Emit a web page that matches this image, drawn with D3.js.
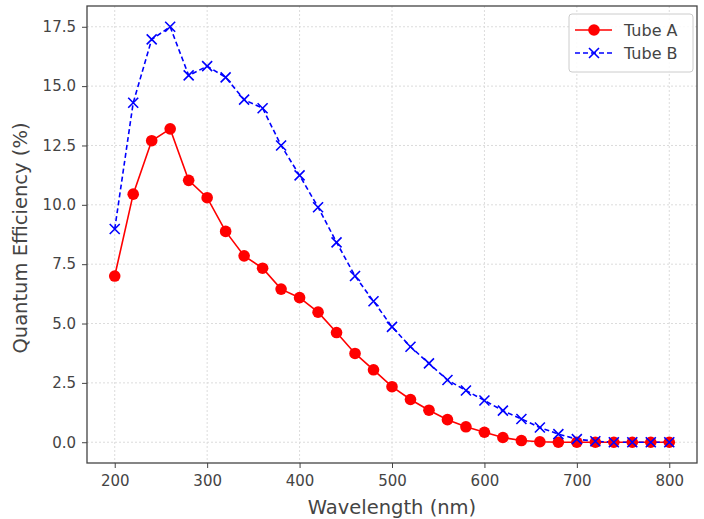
<!DOCTYPE html>
<html><head><meta charset="utf-8">
<script src="https://cdn.jsdelivr.net/npm/d3@7"></script>
<style>body{margin:0;background:#fff}svg{display:block}text{font-family:"DejaVu Sans",sans-serif}</style>
</head><body><svg id="c" width="704" height="519"></svg>
<script>
const wavelengths = d3.range(200, 801, 20);
const tubeA = [7.0,10.45,12.7,13.2,11.03,10.3,8.88,7.85,7.33,6.45,6.09,5.48,4.62,3.74,3.05,2.34,1.8,1.35,0.95,0.65,0.42,0.2,0.07,0.02,0.0,0.0,0.0,0.0,0.0,0.0,0.0];
const tubeB = [8.98,14.3,16.97,17.5,15.45,15.84,15.37,14.43,14.07,12.5,11.24,9.9,8.42,7.0,5.94,4.86,4.02,3.32,2.62,2.18,1.76,1.33,0.98,0.62,0.34,0.13,0.04,0.0,0.0,0.0,0.0];
const xTicks = [200,300,400,500,600,700,800];
const yTicks = [0,2.5,5,7.5,10,12.5,15,17.5];
const seriesNames = ["Tube A","Tube B"];

const svg = d3.select("#c");
const L=87,R=697,T=6,B=463;
const x = d3.scaleLinear().domain([170,830]).range([L,R]);
const y = d3.scaleLinear().domain([-0.875,18.375]).range([B,T]);

// grid
const g = svg.append("g");
g.selectAll(".gx").data(xTicks).enter().append("line")
 .attr("x1",d=>x(d)).attr("x2",d=>x(d)).attr("y1",T).attr("y2",B)
 .attr("stroke","#dcdcdc").attr("stroke-width",1).attr("stroke-dasharray","2,2");
g.selectAll(".gy").data(yTicks).enter().append("line")
 .attr("y1",d=>y(d)).attr("y2",d=>y(d)).attr("x1",L).attr("x2",R)
 .attr("stroke","#dcdcdc").attr("stroke-width",1).attr("stroke-dasharray","2,2");

// axes
const xa = svg.append("g").attr("transform",`translate(0,${B})`)
 .call(d3.axisBottom(x).tickValues(xTicks).tickFormat(d3.format("d")).tickSize(5).tickPadding(7));
const ya = svg.append("g").attr("transform",`translate(${L},0)`)
 .call(d3.axisLeft(y).tickValues(yTicks).tickFormat(d3.format(".1f")).tickSize(5).tickPadding(6));
[xa,ya].forEach(a=>{a.select(".domain").remove();
 a.selectAll("text").attr("font-size",15).attr("fill","#444");
 a.selectAll("line").attr("stroke","#444");});
svg.append("rect").attr("x",L).attr("y",T).attr("width",R-L).attr("height",B-T)
 .attr("fill","none").attr("stroke","#444").attr("stroke-width",1.3);

svg.append("text").attr("x",(L+R)/2).attr("y",514).attr("text-anchor","middle")
 .attr("font-size",19.5).attr("fill","#444").text("Wavelength (nm)");
svg.append("text").attr("transform",`translate(27,238) rotate(-90)`).attr("text-anchor","middle")
 .attr("font-size",19.5).attr("fill","#444").text("Quantum Efficiency (%)");

const line = d3.line().x((d,i)=>x(wavelengths[i])).y(d=>y(d));
svg.append("path").datum(tubeA).attr("d",line).attr("fill","none").attr("stroke","red").attr("stroke-width",1.6);
svg.append("path").datum(tubeB).attr("d",line).attr("fill","none").attr("stroke","blue").attr("stroke-width",1.6).attr("stroke-dasharray","5,3");

svg.append("g").selectAll("circle").data(tubeA).enter().append("circle")
 .attr("cx",(d,i)=>x(wavelengths[i])).attr("cy",d=>y(d)).attr("r",5.8).attr("fill","red");
const xm = (sel,cx,cy,s)=>sel.append("path").attr("d",`M${cx-s},${cy-s}L${cx+s},${cy+s}M${cx-s},${cy+s}L${cx+s},${cy-s}`)
 .attr("stroke","blue").attr("stroke-width",1.6).attr("fill","none");
const gb = svg.append("g");
tubeB.forEach((d,i)=>xm(gb,x(wavelengths[i]),y(d),5));

// legend
const lg = svg.append("g");
lg.append("rect").attr("x",569).attr("y",14).attr("width",124).attr("height",58).attr("rx",3)
 .attr("fill","white").attr("fill-opacity",0.85).attr("stroke","#ccc");
lg.append("line").attr("x1",575).attr("x2",612).attr("y1",30).attr("y2",30).attr("stroke","red").attr("stroke-width",1.6);
lg.append("circle").attr("cx",594).attr("cy",30).attr("r",5.8).attr("fill","red");
lg.append("line").attr("x1",575).attr("x2",612).attr("y1",53).attr("y2",53).attr("stroke","blue").attr("stroke-width",1.6).attr("stroke-dasharray","5,3");
xm(lg,594,53,5);
lg.selectAll("text").data(seriesNames).enter().append("text")
 .attr("x",624).attr("y",(d,i)=>36+i*23).attr("font-size",16).attr("fill","#444").text(d=>d);
</script></body></html>
